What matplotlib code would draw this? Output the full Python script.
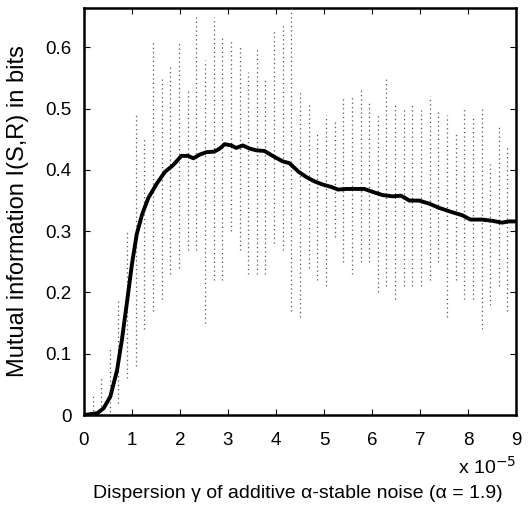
import numpy as np
import matplotlib
matplotlib.use("Agg")
import matplotlib.pyplot as plt

plt.rcParams['font.family'] = ['Liberation Sans', 'DejaVu Sans']

# dispersion (x 1e-5) where the trial spread is drawn
gamma = [0.00, 0.18, 0.36, 0.54, 0.72, 0.90, 1.08, 1.26, 1.44, 1.62, 1.80, 1.98, 2.16,
         2.34, 2.52, 2.70, 2.88, 3.06, 3.24, 3.42, 3.60, 3.78, 3.96, 4.14, 4.32, 4.50,
         4.68, 4.86, 5.04, 5.22, 5.40, 5.58, 5.76, 5.94, 6.12, 6.30, 6.48, 6.66, 6.84,
         7.02, 7.20, 7.38, 7.56, 7.74, 7.92, 8.10, 8.28, 8.46, 8.64, 8.82, 9.00]
# spread of the trials
mi_low = [0.000, 0.000, 0.000, 0.005, 0.020, 0.060, 0.080, 0.140, 0.170, 0.190, 0.230,
          0.240, 0.270, 0.270, 0.150, 0.220, 0.220, 0.300, 0.270, 0.230, 0.230, 0.230,
          0.280, 0.270, 0.170, 0.160, 0.240, 0.220, 0.210, 0.290, 0.250, 0.230, 0.250,
          0.250, 0.200, 0.210, 0.190, 0.210, 0.210, 0.210, 0.220, 0.250, 0.160, 0.220,
          0.190, 0.190, 0.140, 0.180, 0.210, 0.170, 0.165]
mi_high = [0.020, 0.035, 0.060, 0.110, 0.190, 0.300, 0.490, 0.450, 0.610, 0.550, 0.570,
           0.610, 0.530, 0.650, 0.580, 0.650, 0.620, 0.610, 0.600, 0.560, 0.600, 0.550,
           0.630, 0.640, 0.660, 0.530, 0.510, 0.460, 0.490, 0.480, 0.520, 0.520, 0.530,
           0.510, 0.490, 0.550, 0.510, 0.500, 0.510, 0.500, 0.520, 0.500, 0.490, 0.460,
           0.500, 0.490, 0.500, 0.410, 0.470, 0.440, 0.440]

# mean mutual information curve
mean_x = [0, 0.28, 0.41, 0.55, 0.69, 0.79, 0.90, 1.00, 1.10, 1.21, 1.34, 1.52, 1.69, 1.86,
          2.03, 2.17, 2.28, 2.41, 2.55, 2.72, 2.83, 2.93, 3.07, 3.17, 3.31, 3.45, 3.59,
          3.76, 3.93, 4.14, 4.28, 4.47, 4.64, 4.81, 4.98, 5.16, 5.29, 5.47, 5.64, 5.84,
          6.02, 6.22, 6.43, 6.60, 6.78, 6.98, 7.19, 7.40, 7.67, 7.88, 8.05, 8.29, 8.50,
          8.71, 8.84, 9.00]
mean_mi = [0, 0.003, 0.011, 0.030, 0.073, 0.122, 0.186, 0.246, 0.295, 0.327, 0.354, 0.378,
           0.397, 0.408, 0.423, 0.423, 0.419, 0.425, 0.429, 0.430, 0.435, 0.442, 0.440,
           0.436, 0.440, 0.435, 0.432, 0.431, 0.423, 0.414, 0.411, 0.397, 0.388, 0.381,
           0.376, 0.372, 0.368, 0.369, 0.369, 0.369, 0.364, 0.359, 0.357, 0.358, 0.350,
           0.350, 0.345, 0.338, 0.331, 0.326, 0.319, 0.319, 0.317, 0.314, 0.316, 0.316]

fig = plt.figure(figsize=(5.31, 5.13), dpi=100)
ax = fig.add_axes([0.158, 0.191, 0.814, 0.793])

ax.vlines(gamma, mi_low, mi_high, colors='#555555', linestyles=(0, (1, 2.5)), linewidth=0.9)
ax.plot(mean_x, mean_mi, color='black', linewidth=2.8, solid_joinstyle='round')

ax.set_xlim(0, 9)
ax.set_ylim(0, 0.664)
ax.set_xticks(range(0, 10))
ax.set_yticks([0, 0.1, 0.2, 0.3, 0.4, 0.5, 0.6])
ax.set_yticklabels(['0', '0.1', '0.2', '0.3', '0.4', '0.5', '0.6'])
ax.tick_params(direction='in', top=True, right=True, length=4, width=0.8,
               labelsize=13.5)
ax.tick_params(axis='x', pad=12)
ax.tick_params(axis='y', pad=9)
for s in ax.spines.values():
    s.set_linewidth(1.8)

fig.text(18 / 531, 1 - 211 / 513, 'Mutual information I(S,R) in bits', rotation=90,
         ha='center', va='center', fontsize=17)
fig.text(298 / 531, 1 - 493 / 513,
         'Dispersion \u03b3 of additive \u03b1-stable noise (\u03b1 = 1.9)',
         ha='center', va='center', fontsize=14)
ax.text(1.0, -0.128, 'x 10$^{\u22125}$', transform=ax.transAxes, ha='right', va='center',
        fontsize=14)

fig.savefig('out.png', dpi=100)
